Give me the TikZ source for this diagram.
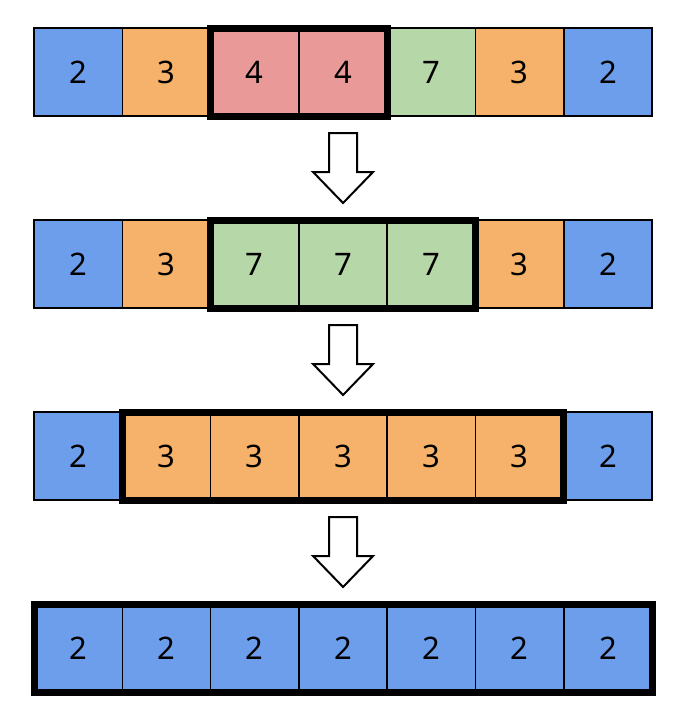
\documentclass[tikz,border=0pt]{standalone}
\usepackage{fontspec}
\setmainfont{Noto Sans}
\usetikzlibrary{positioning,calc}
\definecolor{val2}{HTML}{6D9EEB}
\definecolor{val3}{HTML}{F6B26B}
\definecolor{val4}{HTML}{EA9999}
\definecolor{val7}{HTML}{B6D7A8}
\tikzset{
  cell/.style={draw, line width=1.5pt, minimum width=88.3pt, minimum height=88pt, inner sep=0pt, outer sep=0pt, font=\fontsize{31}{31}\selectfont}, % one array element
  frame/.style={draw, line width=7pt, line join=miter}, % segment being merged
  downarrow/.style={draw, line width=2pt, fill=white, line join=miter}
}

\begin{document}
\begin{tikzpicture}[x=1pt, y=1pt]
        \useasboundingbox (0,0) rectangle (687,-720);

        % Rows of cells
        \foreach \row/\y/\vals in {a/72/{2,3,4,4,7,3,2}, b/264/{2,3,7,7,7,3,2}, c/456/{2,3,3,3,3,3,2}, d/648/{2,2,2,2,2,2,2}} {
            \foreach \v [count=\i] in \vals {
                \node[cell, fill=val\v] (\row\i) at ({78.15+88.3*(\i-1)}, -\y) {\v};
            }
        }

        % Merged segments
        \draw[frame] (a3.north west) rectangle (a4.south east);
        \draw[frame] (b3.north west) rectangle (b5.south east);
        \draw[frame] (c2.north west) rectangle (c6.south east);
        \draw[frame] (d1.north west) rectangle (d7.south east);

        % Arrows between rows
        \foreach \from in {a, b, c} {
            \draw[downarrow] ($(\from4.south)+(-14,-17)$) -- ++(28,0) -- ++(0,-39) -- ++(16,0)
                -- ++(-30,-31) -- ++(-30,31) -- ++(16,0) -- cycle;
        }
    \end{tikzpicture}
\end{document}
